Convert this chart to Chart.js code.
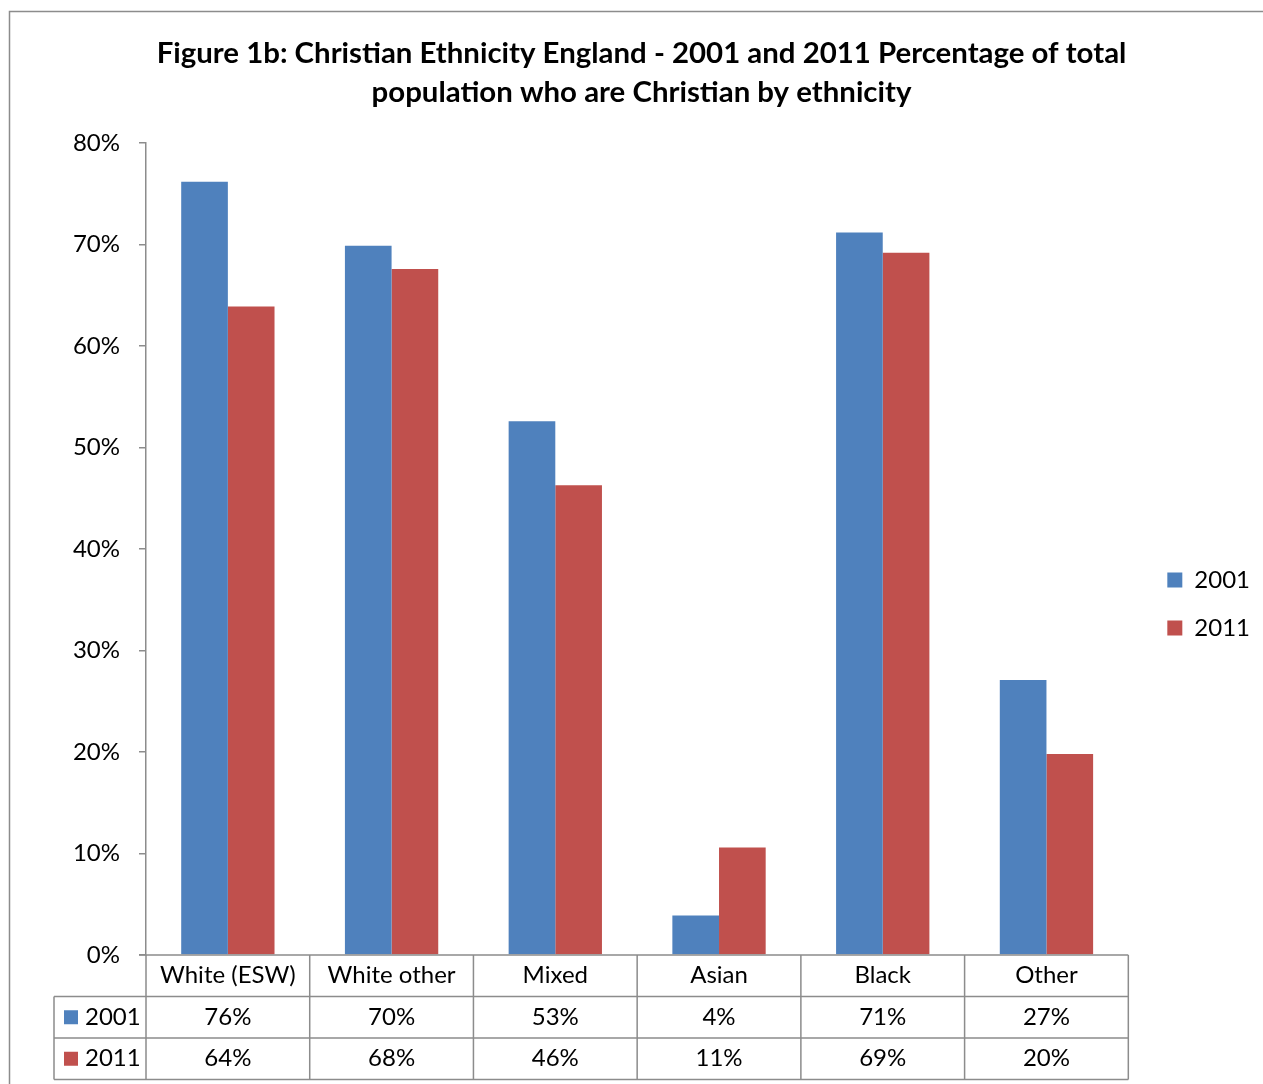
<!DOCTYPE html>
<html>
<head>
<meta charset="utf-8">
<script src="https://cdn.jsdelivr.net/npm/chart.js@4/dist/chart.umd.min.js"></script>
<style>
  body { margin: 0; background: #fff; }
  #wrap { width: 1263px; height: 1084px; }
</style>
</head>
<body>
<div id="wrap"><canvas id="chart" width="1263" height="1084"></canvas></div>
<script>
// data
const categories = ['White (ESW)', 'White other', 'Mixed', 'Asian', 'Black', 'Other'];
const years = ['2001', '2011'];
const values2001 = [76.2, 69.9, 52.6, 3.9, 71.2, 27.1];
const values2011 = [63.9, 67.6, 46.3, 10.6, 69.2, 19.8];
const yTicks = [0, 10, 20, 30, 40, 50, 60, 70, 80];

const colors = ['#4F81BD', '#C0504D'];
const lineColor = '#8c8c8c';
const fontFamily = 'Lato, "Open Sans", sans-serif';
const textSize = 24;

// outer frame of the chart
const framePlugin = {
    id: 'frame',
    beforeDraw(chart) {
        const ctx = chart.ctx;
        ctx.save();
        ctx.fillStyle = '#fff';
        ctx.fillRect(0, 0, chart.width, chart.height);
        ctx.strokeStyle = lineColor;
        ctx.lineWidth = 1.5;
        ctx.strokeRect(9.5, 11.5, chart.width + 20, chart.height + 20);
        ctx.restore();
    },
    // Excel centres the legend on the whole plot (table included) and the title on the page
    afterLayout(chart) {
        const lg = chart.legend;
        if (lg) {
            lg.top += 62; lg.bottom += 62;
            lg.left += 15; lg.right += 15;
        }
        const tb = chart.titleBlock;
        if (tb) { tb.left += 14; tb.right += 14; }
    }
};

// data table under the x axis (like Excel)
const tablePlugin = {
    id: 'dataTable',
    afterDraw(chart) {
        const ctx = chart.ctx;
        const area = chart.chartArea;
        const x = chart.scales.x;
        const rowH = 41.5;
        const top = area.bottom;
        const labelLeft = 54;
        const colW = (area.right - area.left) / categories.length;
        const series = [values2001, values2011];

        ctx.save();
        ctx.strokeStyle = lineColor;
        ctx.lineWidth = 1.5;
        ctx.beginPath();
        // horizontal lines
        ctx.moveTo(area.left - 7, top); ctx.lineTo(area.right, top);
        for (let r = 1; r <= 3; r++) {
            ctx.moveTo(labelLeft, top + r * rowH); ctx.lineTo(area.right, top + r * rowH);
        }
        // vertical lines
        ctx.moveTo(labelLeft, top + rowH); ctx.lineTo(labelLeft, top + 3 * rowH);
        for (let i = 0; i <= categories.length; i++) {
            const cx = area.left + i * colW;
            ctx.moveTo(cx, top); ctx.lineTo(cx, top + 3 * rowH);
        }
        ctx.stroke();

        ctx.fillStyle = '#000';
        ctx.font = textSize + 'px ' + fontFamily;
        ctx.textAlign = 'center';
        ctx.textBaseline = 'middle';
        categories.forEach((c, i) => {
            const cx = x.getPixelForValue(i);
            ctx.fillText(c, cx, top + rowH / 2);
            series.forEach((s, r) => {
                ctx.fillText(Math.round(s[i]) + '%', cx, top + rowH * (r + 1.5));
            });
        });

        years.forEach((y, r) => {
            const cy = top + rowH * (r + 1.5);
            ctx.fillStyle = colors[r];
            ctx.fillRect(64, cy - 7, 14, 14);
            ctx.fillStyle = '#000';
            ctx.textAlign = 'left';
            ctx.fillText(y, 85, cy);
        });
        ctx.restore();
    }
};

new Chart(document.getElementById('chart'), {
    type: 'bar',
    data: {
        labels: categories,
        datasets: [
            { label: years[0], data: values2001, backgroundColor: colors[0] },
            { label: years[1], data: values2011, backgroundColor: colors[1] }
        ]
    },
    options: {
        responsive: false,
        animation: false,
        layout: { padding: { left: 10, right: 18, top: 0, bottom: 0 } },
        datasets: {
            bar: { categoryPercentage: 0.57, barPercentage: 1.0 }
        },
        scales: {
            x: {
                grid: { display: false },
                border: { display: false },
                ticks: { display: false },
                afterFit(scale) { scale.height = 129; }
            },
            y: {
                min: 0,
                max: 80,
                afterBuildTicks(scale) { scale.ticks = yTicks.map(v => ({ value: v })); },
                afterFit(scale) { scale.width = 136; },
                grid: {
                    drawOnChartArea: false,
                    color: lineColor,
                    lineWidth: 1.5,
                    tickLength: 7
                },
                border: { color: lineColor, width: 1.5 },
                ticks: {
                    padding: 19,
                    color: '#000',
                    font: { family: fontFamily, size: textSize },
                    callback: v => v + '%'
                }
            }
        },
        plugins: {
            title: {
                display: true,
                text: ['Figure 1b: Christian Ethnicity England - 2001 and 2011 Percentage of total',
                       'population who are Christian by ethnicity'],
                color: '#000',
                font: { family: fontFamily, size: 29.4, weight: 'bold', lineHeight: 1.33 },
                padding: { top: 34, bottom: 31 }
            },
            legend: {
                position: 'right',
                labels: {
                    color: '#000',
                    boxWidth: 15,
                    boxHeight: 15,
                    padding: 24,
                    font: { family: fontFamily, size: textSize }
                }
            },
            tooltip: { enabled: false }
        }
    },
    plugins: [framePlugin, tablePlugin]
});
</script>
</body>
</html>
